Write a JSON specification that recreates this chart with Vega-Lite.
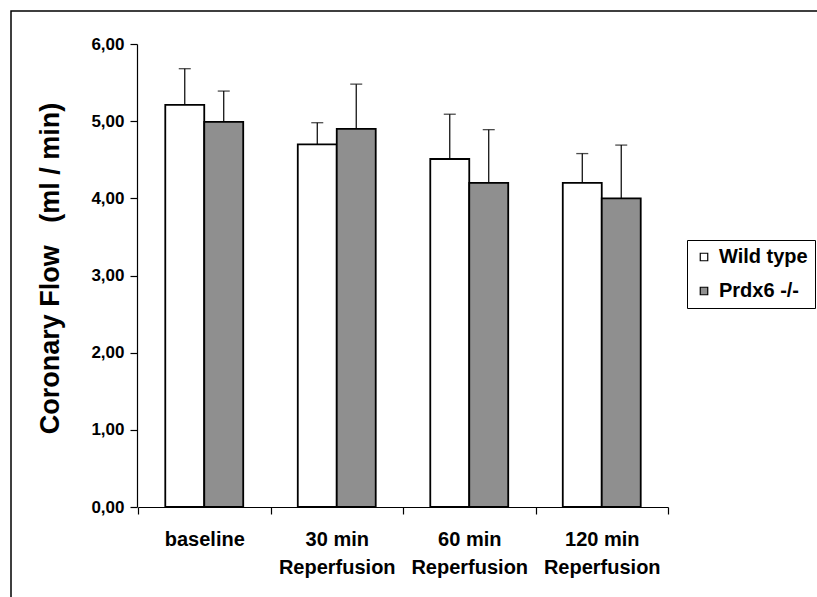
{
  "$schema": "https://vega.github.io/schema/vega-lite/v6.json",
  "width": 810,
  "height": 590,
  "autosize": {"type": "none"},
  "padding": {"left": 11, "top": 11, "right": 0, "bottom": 0},
  "config": {
    "view": {"stroke": "black", "strokeWidth": 1.5},
    "font": "Liberation Sans",
    "axis": {"domainColor": "black", "tickColor": "black", "labelColor": "black", "titleColor": "black", "grid": false, "labelFontWeight": "bold", "titleFontWeight": "bold", "domainWidth": 1.2, "tickWidth": 1.2}
  },
  "data": {"values": [
    {"time": "baseline", "group": "Wild type", "mean": 5.21, "upper": 5.68},
    {"time": "baseline", "group": "Prdx6 -/-", "mean": 4.99, "upper": 5.39},
    {"time": "30 min Reperfusion", "group": "Wild type", "mean": 4.70, "upper": 4.98},
    {"time": "30 min Reperfusion", "group": "Prdx6 -/-", "mean": 4.90, "upper": 5.48},
    {"time": "60 min Reperfusion", "group": "Wild type", "mean": 4.51, "upper": 5.09},
    {"time": "60 min Reperfusion", "group": "Prdx6 -/-", "mean": 4.20, "upper": 4.89},
    {"time": "120 min Reperfusion", "group": "Wild type", "mean": 4.20, "upper": 4.58},
    {"time": "120 min Reperfusion", "group": "Prdx6 -/-", "mean": 4.00, "upper": 4.69}
  ]},
  "encoding": {
    "x": {
      "field": "time", "type": "nominal", "sort": null,
      "scale": {"range": [127, 657], "paddingInner": 0, "paddingOuter": 0},
      "axis": {
        "title": null, "labelAngle": 0, "offset": -94, "tickBand": "extent", "tickSize": 7,
        "labelFontSize": 20, "labelPadding": 15, "labelLineHeight": 28, "labelBaseline": "top",
        "labelExpr": "indexof(datum.label, ' Reperfusion') > 0 ? [replace(datum.label, ' Reperfusion', ''), 'Reperfusion'] : datum.label"
      }
    },
    "xOffset": {"field": "group", "type": "nominal", "sort": ["Wild type", "Prdx6 -/-"], "scale": {"paddingInner": 0, "paddingOuter": 0.7}}
  },
  "layer": [
    {
      "mark": {"type": "bar", "stroke": "black", "strokeWidth": 1.8},
      "encoding": {
        "y": {
          "field": "mean", "type": "quantitative",
          "scale": {"domain": [0, 6], "range": [496, 33], "nice": false},
          "axis": {
            "title": "Coronary Flow\u00a0\u00a0\u00a0(ml / min)", "titleFontSize": 27, "titlePadding": 26, "titleY": 257,
            "offset": -126, "values": [0, 1, 2, 3, 4, 5, 6], "tickSize": 7, "labelFontSize": 17, "labelPadding": 6,
            "labelExpr": "replace(format(datum.value, '.2f'), '.', ',')"
          }
        },
        "fill": {
          "field": "group", "type": "nominal", "sort": ["Wild type", "Prdx6 -/-"],
          "scale": {"domain": ["Wild type", "Prdx6 -/-"], "range": ["#ffffff", "#8f8f8f"]},
          "legend": {
            "title": null, "orient": "none", "legendX": 676, "legendY": 229,
            "strokeColor": "black", "padding": 7, "symbolType": "square", "symbolSize": 56,
            "symbolStrokeColor": "black", "symbolStrokeWidth": 1.2, "labelFontSize": 20, "labelFontWeight": "bold",
            "labelColor": "black", "rowPadding": 14, "symbolOffset": 0, "labelOffset": 5
          }
        }
      }
    },
    {
      "mark": {"type": "rule", "color": "black", "strokeWidth": 1.2},
      "encoding": {"y": {"field": "mean", "type": "quantitative"}, "y2": {"field": "upper"}}
    },
    {
      "mark": {"type": "tick", "color": "black", "size": 12, "thickness": 1.3},
      "encoding": {"y": {"field": "upper", "type": "quantitative"}}
    }
  ]
}
